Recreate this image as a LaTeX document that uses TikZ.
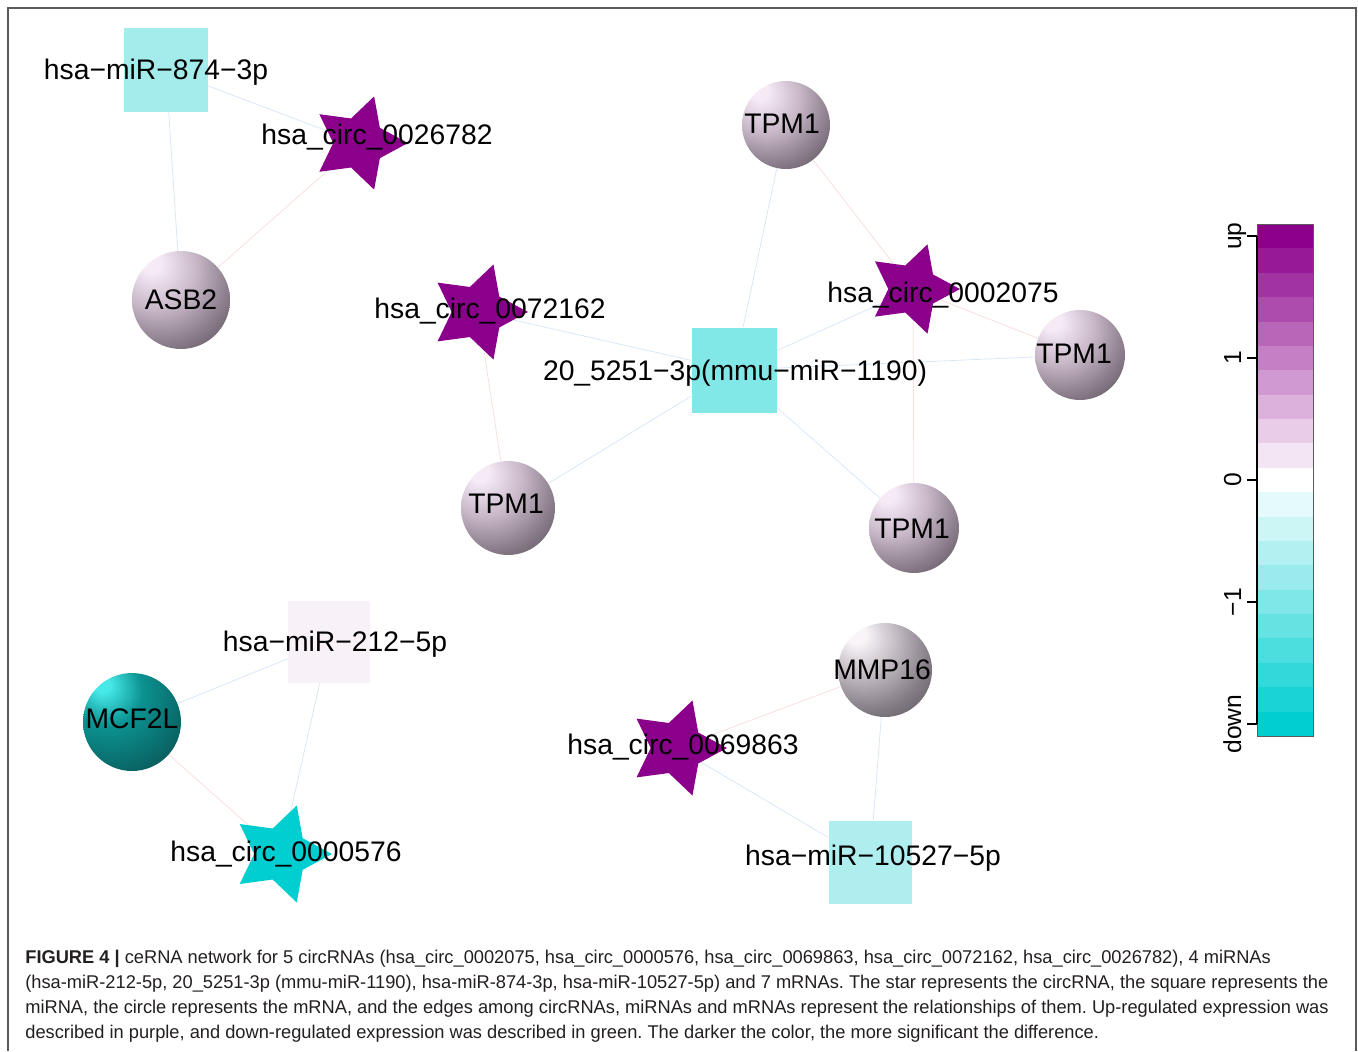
\documentclass[tikz,border=0pt]{standalone}
\usepackage{fontspec}
\setmainfont{Liberation Sans}
\newfontfamily\capfont[FakeStretch=0.99]{Liberation Sans}
\usepackage{xcolor}
\usetikzlibrary{shapes.geometric,backgrounds}
\frenchspacing

\definecolor{circup}{RGB}{139,0,139}
\definecolor{circdown}{RGB}{0,206,209}
\definecolor{mir874}{RGB}{164,236,236}
\definecolor{mir1190}{RGB}{130,231,231}
\definecolor{mir212}{RGB}{248,242,248}
\definecolor{mir10527}{RGB}{174,238,238}
\definecolor{edgemir}{RGB}{216,231,248}
\definecolor{edgecirc}{RGB}{250,222,222}
\definecolor{framecol}{RGB}{90,90,90}
\definecolor{captext}{RGB}{35,31,32}
\definecolor{lil0}{RGB}{246,234,246}
\definecolor{lil1}{RGB}{200,184,200}
\definecolor{lil2}{RGB}{140,126,140}
\definecolor{lil3}{RGB}{98,88,98}
\definecolor{gry0}{RGB}{248,244,248}
\definecolor{gry1}{RGB}{190,182,190}
\definecolor{gry2}{RGB}{132,124,132}
\definecolor{gry3}{RGB}{98,90,98}
\definecolor{tea0}{RGB}{70,232,232}
\definecolor{tea1}{RGB}{12,146,146}
\definecolor{tea2}{RGB}{10,108,108}
\definecolor{tea3}{RGB}{10,82,82}

\pgfdeclareradialshading{lilacball}{\pgfpoint{-16bp}{20bp}}{color(0bp)=(lil0); color(5bp)=(lil0); color(20bp)=(lil1); color(34bp)=(lil2); color(45bp)=(lil3); color(90bp)=(lil3)}
\pgfdeclareradialshading{grayball}{\pgfpoint{-16bp}{20bp}}{color(0bp)=(gry0); color(5bp)=(gry0); color(20bp)=(gry1); color(34bp)=(gry2); color(45bp)=(gry3); color(90bp)=(gry3)}
\pgfdeclareradialshading{tealball}{\pgfpoint{-16bp}{20bp}}{color(0bp)=(tea0); color(4bp)=(tea0); color(18bp)=(tea1); color(34bp)=(tea2); color(45bp)=(tea3); color(90bp)=(tea3)}

\tikzset{
    mirbox/.style={rectangle,inner sep=0},
    circstar/.style={star,star points=5,star point ratio=1.9,inner sep=0,rotate=-90},
    gene/.style={circle,inner sep=0},
    glbl/.style={anchor=base,inner sep=0,font=\fontsize{16.1}{19}\selectfont},
    barlbl/.style={anchor=base,inner sep=0,rotate=90,font=\fontsize{14}{16}\selectfont},
    captxt/.style={anchor=base west,inner sep=0,text=captext,font=\capfont\fontsize{10.5}{12}\selectfont},
    miredge/.style={draw=edgemir,line width=0.45pt},
    circedge/.style={draw=edgecirc,line width=0.45pt},
}

\newcommand{\mirna}[5] {
    \node[mirbox,fill=#5,minimum size=#4*0.02cm] (#1) at (#2,#3) {};
}
\newcommand{\circrna}[5] {
    \node[circstar,fill=#5,minimum size=#4*0.04cm] (#1) at (#2,#3) {};
}
\newcommand{\mrna}[5] {
    \node[gene,shading=#5,minimum size=#4*0.04cm] (#1) at (#2,#3) {};
}
\newcommand{\glabel}[4] {
    \node[glbl] (#1) at (#2,#3) {#4};
}

\begin{document}
\begin{tikzpicture}[x=0.02cm,y=-0.02cm]
    \useasboundingbox (0,0) rectangle (1358,1051);
    \draw[framecol,line width=0.8pt] (8,1051) -- (8,8) -- (1356,8) -- (1356,1051);

    \mirna{m874}{166}{70}{84}{mir874}
    \mirna{m1190}{734}{370}{85}{mir1190}
    \mirna{m212}{329}{642}{82}{mir212}
    \mirna{m10527}{870}{862}{83}{mir10527}

    \circrna{c26782}{359}{143}{49}{circup}
    \circrna{c72162}{478}{312}{50}{circup}
    \circrna{c2075}{913}{289}{47}{circup}
    \circrna{c0576}{281}{854}{51}{circdown}
    \circrna{c69863}{677}{748}{50}{circup}

    \mrna{asb2}{181}{300}{49}{lilacball}
    \mrna{tpma}{786}{125}{44}{lilacball}
    \mrna{tpmb}{1080}{355}{45}{lilacball}
    \mrna{tpmc}{508}{508}{47}{lilacball}
    \mrna{tpmd}{914}{528}{45}{lilacball}
    \mrna{mcf2l}{132}{722}{49}{tealball}
    \mrna{mmp16}{885}{670}{47}{grayball}

    \begin{scope}[on background layer]
        \foreach \a/\b in {m874/asb2,m874/c26782,c72162/m1190,m1190/tpma,m1190/tpmb,m1190/tpmc,m1190/tpmd,m1190/c2075,m212/mcf2l,m212/c0576,c69863/m10527,mmp16/m10527}
            \draw[miredge] (\a) -- (\b);
        \foreach \a/\b in {c26782/asb2,c72162/tpmc,c2075/tpma,c2075/tpmb,c2075/tpmd,mcf2l/c0576,c69863/mmp16}
            \draw[circedge] (\a) -- (\b);
    \end{scope}

    \glabel{l874}{156}{80}{hsa−miR−874−3p}
    \glabel{l1190}{735}{380}{20\_5251−3p(mmu−miR−1190)}
    \glabel{l212}{335}{651}{hsa−miR−212−5p}
    \glabel{l10527}{873}{865}{hsa−miR−10527−5p}
    \glabel{l26782}{377}{144}{hsa\_circ\_0026782}
    \glabel{l72162}{490}{318}{hsa\_circ\_0072162}
    \glabel{l2075}{943}{302}{hsa\_circ\_0002075}
    \glabel{l0576}{286}{861}{hsa\_circ\_0000576}
    \glabel{l69863}{683}{754}{hsa\_circ\_0069863}
    \glabel{lasb2}{181}{309}{ASB2}
    \glabel{ltpma}{782}{133}{TPM1}
    \glabel{ltpmb}{1074}{363}{TPM1}
    \glabel{ltpmc}{506}{513}{TPM1}
    \glabel{ltpmd}{912}{538}{TPM1}
    \glabel{lmcf2l}{132}{728}{MCF2L}
    \glabel{lmmp16}{882}{679}{MMP16}

    % colour key
    \foreach \i in {0,...,20} {
        \pgfmathtruncatemacro{\pct}{abs(100-10*\i)}
        \ifnum\i<10 \colorlet{barcol}{circup!\pct!white}\else\colorlet{barcol}{circdown!\pct!white}\fi
        \fill[barcol] (1257,{224+\i*512/21}) rectangle (1313,{224+(\i+1)*512/21});
    }
    \draw[framecol,line width=0.5pt] (1257,224) rectangle (1313,736);
    \draw[line width=0.6pt] (1257,236) -- (1257,724);
    \foreach \y/\t/\n in {236/up/kup,358/1/kone,480/0/kzero,602/−1/kmone,724/down/kdown} {
        \draw[line width=0.6pt] (1247,\y) -- (1257,\y);
        \node[barlbl] (\n) at (1241,\y) {\t};
    }

    \node[captxt] (cap1) at (25,963) {\textbf{FIGURE 4 |} ceRNA network for 5 circRNAs (hsa\_circ\_0002075, hsa\_circ\_0000576, hsa\_circ\_0069863, hsa\_circ\_0072162, hsa\_circ\_0026782), 4 miRNAs};
    \node[captxt] (cap2) at (25,988) {(hsa-miR-212-5p, 20\_5251-3p (mmu-miR-1190), hsa-miR-874-3p, hsa-miR-10527-5p) and 7 mRNAs. The star represents the circRNA, the square represents the};
    \node[captxt] (cap3) at (25,1013) {miRNA, the circle represents the mRNA, and the edges among circRNAs, miRNAs and mRNAs represent the relationships of them. Up-regulated expression was};
    \node[captxt] (cap4) at (25,1038) {described in purple, and down-regulated expression was described in green. The darker the color, the more significant the difference.};
\end{tikzpicture}
\end{document}
